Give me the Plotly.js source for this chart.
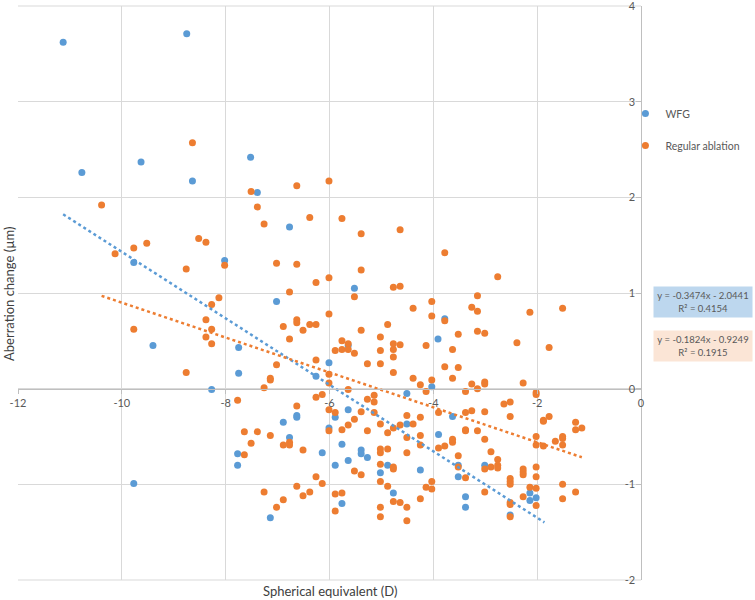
<!DOCTYPE html>
<html>
<head>
<meta charset="utf-8">
<script src="https://cdn.plot.ly/plotly-3.0.1.min.js"></script>
<style>html,body{margin:0;padding:0;background:#fff;}#chart{width:755px;height:600px;}</style>
</head>
<body>
<div id="chart"></div>
<script>
const wfgX = [-11.13,-8.75,-10.77,-9.63,-8.64,-7.52,-7.39,-9.77,-8.02,-9.40,-8.27,-7.75,-7.75,-6.77,-5.52,-7.02,-5.64,-3.91,-6.01,-6.26,-4.03,-4.51,-3.78,-9.77,-7.77,-7.77,-6.63,-6.63,-5.89,-5.64,-6.01,-4.51,-4.25,-3.90,-6.89,-6.77,-6.14,-5.76,-5.89,-5.64,-5.39,-5.39,-5.27,-4.88,-5.02,-4.77,-5.76,-7.14,-3.63,-3.52,-3.01,-3.52,-3.38,-2.14,-2.14,-2.02,-3.38,-2.52];
const wfgY = [3.62,3.71,2.26,2.37,2.17,2.42,2.05,1.32,1.34,0.45,-0.01,0.43,0.16,1.69,1.05,0.91,0.45,0.52,0.27,0.13,0.02,-0.05,0.73,-0.99,-0.68,-0.80,-0.28,-0.30,-0.30,-0.22,-0.41,-0.37,-0.85,-0.48,-0.35,-0.51,-0.67,-0.58,-0.80,-0.75,-0.64,-0.68,-0.72,-0.80,-0.88,-1.09,-1.20,-1.35,-0.29,-0.80,-0.80,-0.92,-1.13,-1.09,-1.17,-1.14,-1.24,-1.32];

const regX = [-8.64,-7.51,-6.63,-6.01,-10.39,-10.13,-9.77,-9.52,-8.52,-8.38,-8.76,-8.02,-8.13,-8.27,-8.38,-8.27,-8.38,-8.27,-9.77,-8.76,
-7.39,-7.26,-6.38,-5.76,-5.39,-4.64,-7.02,-6.63,-5.39,-6.01,-6.26,-5.52,-4.77,-4.64,-6.77,-6.01,-4.39,-4.03,-4.03,-6.89,
-6.63,-6.63,-6.51,-6.38,-6.26,-6.77,-5.39,-4.88,-5.02,-5.76,-5.64,-5.76,-5.64,-5.89,-5.52,-5.02,-4.77,-4.64,-4.77,-4.77,
-4.14,-5.27,-5.02,-4.77,-6.26,-7.02,-7.14,-7.14,-7.26,-6.01,-6.01,-5.64,-4.39,-4.25,-4.03,-4.14,-5.14,-5.27,-6.14,-6.26,
-7.77,-3.78,-2.76,-3.15,-3.26,-3.15,-3.78,-2.14,-1.51,-3.52,-3.15,-3.01,-2.39,-1.77,-3.63,-3.78,-3.52,-3.63,-3.26,-3.01,
-3.01,-2.27,-3.38,-3.15,-2.02,-2.02,-5.14,-6.63,-6.01,-5.89,-5.39,-5.14,-5.52,-5.64,-5.76,-6.01,-5.27,-5.02,-4.88,-4.77,
-4.64,-4.39,-4.51,-4.25,-4.51,-4.25,-4.25,-4.51,-3.90,-3.90,-7.64,-7.64,-7.51,-7.39,-7.14,-6.89,-6.77,-6.77,-6.51,-5.02,
-5.02,-4.88,-5.02,-4.77,-4.77,-5.02,-4.88,-4.77,-4.64,-4.51,-4.51,-5.02,-5.02,-4.25,-4.14,-4.03,-4.03,-5.52,-5.39,-5.76,
-5.89,-5.89,-6.26,-6.14,-6.63,-6.38,-6.51,-7.26,-6.89,-7.02,-3.38,-3.26,-3.01,-2.64,-2.52,-2.52,-1.88,-1.88,-1.77,-1.26,
-1.26,-1.14,-3.38,-3.38,-3.15,-3.63,-3.63,-3.01,-3.78,-2.02,-2.02,-1.88,-1.65,-1.51,-1.51,-1.51,-2.89,-3.52,-2.76,-3.52,
-3.01,-2.89,-2.76,-2.76,-2.27,-2.27,-2.27,-2.02,-2.02,-3.38,-2.52,-2.52,-2.52,-2.14,-2.02,-1.51,-1.26,-3.01,-2.27,-1.51,
-2.52,-2.52,-2.02,-2.52];
const regY = [2.57,2.06,2.12,2.17,1.92,1.41,1.47,1.52,1.57,1.53,1.25,1.29,0.95,0.88,0.72,0.62,0.54,0.47,0.62,0.17,
1.90,1.72,1.79,1.78,1.62,1.66,1.31,1.30,1.24,1.16,1.11,0.96,1.06,1.07,1.01,0.78,0.84,0.91,0.76,0.65,
0.72,0.69,0.61,0.67,0.67,0.52,0.61,0.67,0.54,0.50,0.47,0.41,0.41,0.40,0.37,0.40,0.47,0.46,0.41,0.33,
0.45,0.26,0.26,0.17,0.30,0.25,0.11,0.09,0.01,0.15,0.06,-0.01,0.11,0.04,0.09,-0.03,-0.07,-0.11,-0.06,-0.09,
-0.12,1.42,1.17,0.97,0.85,0.81,0.71,0.80,0.84,0.57,0.60,0.58,0.48,0.43,0.41,0.23,0.22,0.11,0.05,0.07,
0.05,0.06,-0.03,0.00,-0.04,-0.06,-0.14,-0.18,-0.22,-0.25,-0.24,-0.25,-0.32,-0.38,-0.43,-0.44,-0.44,-0.37,-0.46,-0.41,
-0.38,-0.37,-0.28,-0.30,-0.51,-0.49,-0.59,-0.67,-0.62,-0.25,-0.45,-0.69,-0.57,-0.45,-0.49,-0.59,-0.56,-0.59,-0.64,-0.63,
-0.67,-0.63,-0.79,-0.82,-0.84,-0.97,-1.02,-1.18,-1.19,-1.24,-1.38,-1.24,-1.34,-1.15,-1.03,-1.05,-0.97,-0.86,-0.90,-1.09,
-1.10,-1.28,-0.92,-0.99,-1.02,-1.08,-1.12,-1.08,-1.16,-1.24,-0.25,-0.23,-0.24,-0.16,-0.14,-0.29,-0.33,-0.34,-0.29,-0.35,
-0.43,-0.41,-0.43,-0.44,-0.44,-0.53,-0.56,-0.53,-0.60,-0.50,-0.59,-0.60,-0.55,-0.50,-0.52,-0.59,-0.66,-0.70,-0.74,-0.82,
-0.84,-0.82,-0.80,-0.83,-0.84,-0.87,-0.90,-0.82,-0.92,-0.93,-0.94,-0.97,-1.00,-1.03,-1.04,-1.00,-1.08,-1.08,-1.13,-1.15,
-1.19,-1.21,-1.22,-1.34];

// trendline coefficients (from the chart labels) and extents
const wfgSlope = -0.3474, wfgIntercept = -2.0441, wfgR2 = 0.4154;
const regSlope = -0.1824, regIntercept = -0.9249, regR2 = 0.1915;
const wfgTrendRange = [-11.13, -1.86];
const regTrendRange = [-10.39, -1.14];

const xTicks = [-12,-10,-8,-6,-4,-2,0];
const yTicks = [-2,-1,0,1,2,3,4];

const BLUE = '#5B9BD5', ORANGE = '#ED7D31';
const FONT = 'Lato, "Open Sans", sans-serif';
const TXT = '#595959';
const GRID = '#D9D9D9';

function fmt(v){ return (v<0?'- ':'+ ') + Math.abs(v).toFixed(4); }

const traces = [
  {type:'scatter', mode:'markers', name:'WFG', x:wfgX, y:wfgY, legendgroup:'a',
   marker:{color:BLUE, size:7}},
  {type:'scatter', mode:'markers', name:'Regular ablation', x:regX, y:regY, legendgroup:'b',
   marker:{color:ORANGE, size:7}},
  {type:'scatter', mode:'lines', showlegend:false, hoverinfo:'skip',
   x:wfgTrendRange, y:wfgTrendRange.map(v=>wfgSlope*v+wfgIntercept),
   line:{color:BLUE, width:2.5, dash:'dot'}},
  {type:'scatter', mode:'lines', showlegend:false, hoverinfo:'skip',
   x:regTrendRange, y:regTrendRange.map(v=>regSlope*v+regIntercept),
   line:{color:ORANGE, width:2.5, dash:'dot'}}
];

const layout = {
  width:755, height:600,
  margin:{l:18, r:114, t:6, b:20, autoexpand:false},
  paper_bgcolor:'#fff', plot_bgcolor:'#fff',
  font:{family:FONT, color:TXT, size:11},
  showlegend:true,
  legend:{x:0.975, y:0.838, xanchor:'left', yanchor:'top', traceorder:'grouped',
    tracegroupgap:13, font:{size:10.5, color:TXT}, itemwidth:30, bgcolor:'rgba(0,0,0,0)'},
  xaxis:{range:[-12,0], tickvals:xTicks, ticktext:xTicks.map(String),
    anchor:'free', position:(0-(-2))/(4-(-2)),
    showgrid:true, gridcolor:GRID, gridwidth:1,
    showline:true, linecolor:'#BFBFBF', linewidth:1,
    ticks:'outside', ticklen:4, tickcolor:'#BFBFBF',
    zeroline:false, tickfont:{size:11, color:TXT}, fixedrange:true},
  yaxis:{range:[-2,4], tickvals:yTicks, ticktext:yTicks.map(String),
    side:'right', ticklabelposition:'inside', ticklabeloverflow:'allow',
    ticks:'inside', ticklen:5, tickcolor:'#BFBFBF',
    showgrid:true, gridcolor:GRID, gridwidth:1,
    showline:true, linecolor:'#BFBFBF', linewidth:1,
    zeroline:false, tickfont:{size:11, color:TXT}, fixedrange:true},
  shapes:[
    {type:'line', xref:'paper', yref:'paper', x0:0, x1:1, y0:1, y1:1, line:{color:GRID, width:1}, layer:'below'},
    {type:'line', xref:'paper', yref:'paper', x0:0, x1:1, y0:0, y1:0, line:{color:GRID, width:1}, layer:'below'}
  ],
  annotations:[
    {text:'Spherical equivalent (D)', xref:'paper', yref:'paper', x:0.5, y:-0.0185,
     xanchor:'center', yanchor:'middle', showarrow:false, font:{size:13, color:'#404040'}},
    {text:'Aberration change (µm)', xref:'paper', yref:'paper', x:-0.0145, y:0.5,
     xanchor:'center', yanchor:'middle', textangle:-90, showarrow:false, font:{size:13, color:'#404040'}},
    {text:'y = ' + wfgSlope.toFixed(4) + 'x ' + fmt(wfgIntercept) + '<br>R² = ' + wfgR2.toFixed(4),
     xref:'paper', yref:'paper', x:1.0995, y:0.4843, xanchor:'center', yanchor:'middle',
     showarrow:false, bgcolor:'#BDD7EE', width:96, height:28, align:'center',
     font:{size:9.5, color:TXT}},
    {text:'y = ' + regSlope.toFixed(4) + 'x ' + fmt(regIntercept) + '<br>R² = ' + regR2.toFixed(4),
     xref:'paper', yref:'paper', x:1.0995, y:0.4077, xanchor:'center', yanchor:'middle',
     showarrow:false, bgcolor:'#FBE5D6', width:96, height:28, align:'center',
     font:{size:9.5, color:TXT}}
  ]
};

Plotly.newPlot('chart', traces, layout, {staticPlot:true, displayModeBar:false});
</script>
</body>
</html>
